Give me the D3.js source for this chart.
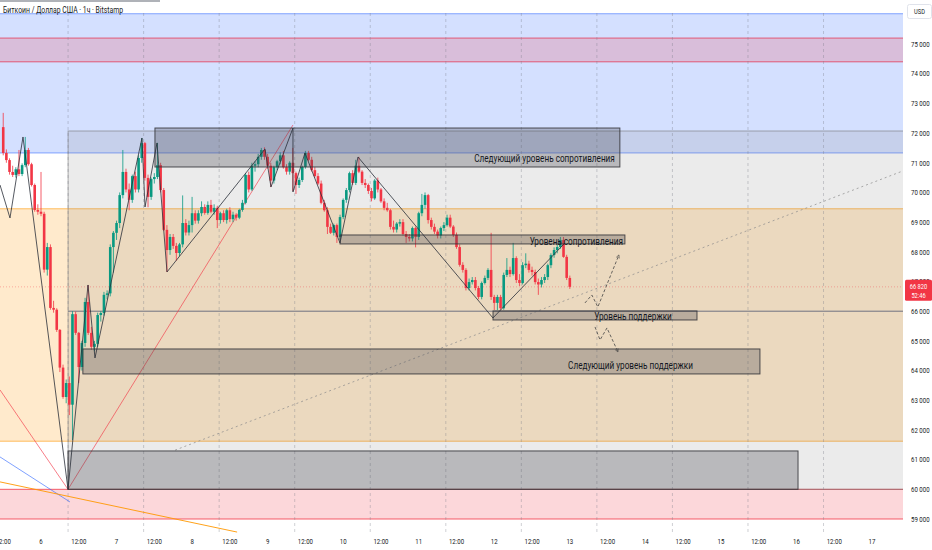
<!DOCTYPE html>
<html><head><meta charset="utf-8">
<script src="https://cdn.jsdelivr.net/npm/d3@7"></script>
<style>body{margin:0;background:#fff}svg{display:block}</style>
</head><body>
<svg id="c" width="932" height="550"></svg>
<script>
// ---------------- DATA ----------------
const title = "Биткоин / Доллар США · 1ч · Bitstamp";
const currency = "USD";
const lastPriceText = "66 820";
const countdownText = "52:46";
const lastPrice = 66820;
const firstHour = -12; // hours relative to day "6" 00:00
// [open, high, low, close] per 1h candle
const candles = [
[72200,72680,71250,71330],[71330,71450,71000,71090],[71090,71150,70600,70690],[70690,70900,70520,70590],
[70590,70850,70500,70780],[70780,71430,70550,70620],[70620,70980,70550,70920],[70920,71870,70850,71430],
[71430,71500,70900,70950],[70950,71000,70200,70250],[70250,70300,69350,69410],[69410,69600,69250,69350],
[69350,70690,69200,69280],[69280,69350,67300,67400],[67400,68300,67200,68160],[68160,68250,66050,66110],
[66110,66350,65950,66050],[66050,66100,65300,65370],[65370,65400,63950,64100],[64100,64200,63050,63110],
[63110,63700,62900,63580],[63580,63800,62500,62850],[62850,66000,61660,65900],[65900,65990,65200,65270],
[65270,65300,63580,64120],[64120,65000,64000,64930],[64930,66450,64800,66310],[66310,66880,65200,65270],
[65270,65470,64700,64800],[64800,65000,64650,64900],[64900,65950,64800,65870],[65870,66000,65650,65940],
[65940,66650,65850,66550],[66550,66700,66400,66600],[66600,68250,66500,68160],[68160,68700,67300,68640],
[68640,69050,68400,68970],[68970,70000,68800,69910],[69910,71430,69800,70690],[70690,70800,70000,70100],
[70100,70300,69400,69750],[69750,70600,69650,70550],[70550,70700,70000,70100],[70100,71250,70000,71160],
[71160,71830,71000,71660],[71660,71700,70400,70490],[70490,70600,69500,69850],[69850,70500,69750,70450],
[70450,70650,70300,70520],[70520,71670,70450,70920],[70920,71000,70000,70080],[70080,70150,68700,68740],
[68740,68900,67320,68060],[68060,68600,67900,68500],[68500,68600,68100,68200],[68200,68300,67700,67960],
[67960,68300,67850,68250],[68250,69900,68150,68970],[68970,69100,68550,68650],[68650,69050,68550,68900],
[68900,69850,68650,69300],[69300,69400,68950,69050],[69050,69400,68950,69300],[69300,69700,69200,69510],
[69510,69600,69250,69310],[69310,69700,69250,69580],[69580,69750,69300,69350],[69350,69600,69250,69480],
[69480,69550,68800,69070],[69070,69350,68950,69300],[69300,69400,69000,69070],[69070,69450,68950,69400],
[69400,69500,69000,69100],[69100,69350,69000,69250],[69250,69300,69050,69150],[69150,69450,69100,69410],
[69410,69750,69350,69650],[69650,70650,69600,70590],[70590,70700,70000,70100],[70100,71000,70050,70900],
[70900,71050,70700,70950],[70950,71300,70850,71200],[71200,71500,71100,71430],[71430,71520,71100,71200],
[71200,71300,70800,70900],[70900,71000,70180,70400],[70400,70900,70300,70850],[70850,71100,70750,71050],
[71050,71350,70950,71250],[71250,71400,70800,70850],[70850,70950,70600,70700],[70700,71050,70600,71000],
[71000,71500,70050,70650],[70650,70700,69950,70250],[70250,70500,70150,70420],[70420,70900,70350,70860],
[70860,71400,70800,71330],[71330,71400,71050,71100],[71100,71200,70700,70750],[70750,70850,70500,70550],
[70550,70650,70250,70300],[70300,70400,69600,69650],[69650,69750,69350,69400],[69400,69500,68600,68840],
[68840,68950,68600,68640],[68640,68950,68550,68900],[68900,68950,68300,68500],[68500,69250,68400,69170],
[69170,69800,69100,69750],[69750,70150,69650,70080],[70080,70700,70000,70650],[70650,70750,70250,70320],
[70320,71100,70250,70900],[70900,71200,70650,70700],[70700,70750,70250,70320],[70320,70450,70150,70250],
[70250,70300,69950,70050],[70050,70150,69700,69800],[69800,70450,69750,70400],[70400,70500,70000,70100],
[70100,70150,69650,69700],[69700,69800,69400,69480],[69480,69650,69350,69400],[69400,69450,68750,68840],
[68840,69050,68650,68750],[68750,69000,68650,68950],[68950,69100,68850,69000],[69000,69100,68550,68600],
[68600,68700,68300,68500],[68500,68600,68350,68450],[68450,68850,68350,68800],[68800,68850,68150,68500],
[68500,69350,68400,69300],[69300,69950,69200,69580],[69580,70000,69450,69910],[69910,69950,68950,69070],
[69070,69150,68750,68840],[68840,68950,68600,68680],[68680,68750,68450,68550],[68550,68850,68450,68800],
[68800,69000,68700,68900],[68900,69250,68850,69150],[69150,69250,68800,68850],[68850,68900,68500,68570],
[68570,68650,68100,68160],[68160,68250,67500,67560],[67560,67650,67300,67390],[67390,67450,66700,66780],
[66780,67100,66700,66980],[66980,67150,66900,67050],[67050,67150,66700,66780],[66780,66850,66400,66480],
[66480,67000,66400,66950],[66950,67200,66900,67120],[67120,67450,67050,67390],[67390,68640,66380,66480],
[66480,66550,66040,66280],[66280,66550,66040,66480],[66480,66550,66050,66100],[66100,67300,66050,67220],
[67220,67790,67150,67390],[67390,67500,67150,67250],[67250,68300,67200,67790],[67790,67850,66950,67050],
[67050,67250,66850,66950],[66950,67650,66900,67550],[67550,67950,67450,67600],[67600,67700,67300,67390],
[67390,67500,67200,67320],[67320,67400,66900,66980],[66980,67100,66550,66900],[66900,67150,66800,67050],
[67050,67250,66950,67150],[67150,67600,67050,67550],[67550,67950,67450,67890],[67890,68150,67800,68060],
[68060,68250,67950,68160],[68160,68500,68100,68400],[68400,68500,67800,67830],[67830,67900,67050,67120],
[67120,67200,66750,66820]
];
const priceTicks = d3.range(59000, 75001, 1000);
const xTickHours = d3.range(-12, 265, 12);
const xTickLabels = ["12:00","6","12:00","7","12:00","8","12:00","9","12:00","10","12:00","11",
                     "12:00","12","12:00","13","12:00","14","12:00","15","12:00","16","12:00","17"];
const sessionBreakHours = d3.range(-15.4, 264, 24);
// horizontal zones (price ranges)
const zones = [
  {id:"blue",   hi:76020, lo:71330},
  {id:"purple", hi:75200, lo:74400},
  {id:"orange", hi:69450, lo:61620},
  {id:"pink",   hi:60000, lo:59000}
];
const overlayZone = {h0:8.6, h1:280, hi:72070, lo:60000};
// level boxes [startHour, endHour, topPrice, bottomPrice]
const levelBoxes = [
  {h0:36.2,  h1:183.9, hi:72170, lo:70857},
  {h0:95.0,  h1:185.5, hi:68567, lo:68265},
  {h0:143.6, h1:208.4, hi:66008, lo:65704},
  {h0:13.3,  h1:228.4, hi:64727, lo:63886},
  {h0:8.6,   h1:240.5, hi:61292, lo:60000}
];
const levelLabels = [
  {text:"Следующий уровень сопротивления", h:182.3, p:71009},
  {text:"Уровень сопротивления",           h:184.9, p:68213},
  {text:"Уровень поддержки",               h:200.4, p:65687},
  {text:"Следующий уровень поддержки",     h:207.1, p:64037}
];
// zigzag swing points [hour, price]
const zigzag = [
  [-13.02,70251],[-9.85,69140],[-5.72,71868],[8.58,60000],[14.93,66883],[17.15,64425],
  [32.08,71834],[33.04,69510],[36.85,71666],[40.03,67321],[71.16,71464],[73.06,70184],
  [80.05,72171],[80.05,70016],[83.86,71329],[94.98,68298],[100.7,71194],[143.58,65772],[166.45,68298]
];
const projUp   = [[172.8,66277],[175.0,66546],[176.9,66142],[183.6,67894]];
const projDown = [[176.0,65469],[177.6,65031],[179.8,65435],[183.3,64627]];
const fanRed    = [[-13.02,63347],[8.58,60000]];
const fanBlue   = [[-13.02,61090],[9.2,59574]];
const fanOrange = [[-13.02,60250],[62.3,58560]];
const trendRed  = [[8.58,60000],[80.05,72272]];
const trendDotted = [[42.6,61320],[273.8,70723]];
const supportRay = {h0:8.6, p:66000};

// ---------------- LAYOUT ----------------
const W = 932, H = 550, plotR = 903, plotB = 533;
const x = d3.scaleLinear().domain([0, 264]).range([41, 872]);
const y = d3.scaleLinear().domain([59000, 75000]).range([519, 44]);
const FONT = "Roboto, 'Liberation Sans', sans-serif";
const SX = 0.76;
const svg = d3.select("#c");
svg.append("rect").attr("width", W).attr("height", H).attr("fill", "#fff");
svg.append("defs").append("clipPath").attr("id","plot")
  .append("rect").attr("x",0).attr("y",0).attr("width",plotR).attr("height",plotB);
svg.select("defs").append("marker").attr("id","arr").attr("viewBox","0 0 10 10")
  .attr("refX",9).attr("refY",5).attr("markerWidth",5).attr("markerHeight",5).attr("orient","auto")
  .append("path").attr("d","M1,1 L9,5 L1,9").attr("fill","none").attr("stroke","#444").attr("stroke-width",1.5);

const g = svg.append("g").attr("clip-path","url(#plot)");
const line = d3.line().x(d => x(d[0])).y(d => y(d[1]));

const zoneFill = {blue:"rgba(41,98,255,0.2)", purple:"rgba(242,54,69,0.2)", orange:"rgba(255,152,0,0.2)", pink:"rgba(242,54,69,0.2)"};
const zoneStroke = {blue:"rgba(41,98,255,0.55)", purple:"rgba(230,40,70,0.7)", orange:"rgba(255,152,0,0.6)", pink:"rgba(242,54,69,0.8)"};
zones.forEach(z => {
  g.append("rect").attr("x",0).attr("width",plotR).attr("y",y(z.hi)).attr("height",y(z.lo)-y(z.hi)).attr("fill",zoneFill[z.id]);
});
zones.forEach(z => {
  [z.hi, z.lo].forEach(p => g.append("line").attr("x1",0).attr("x2",plotR).attr("y1",y(p)).attr("y2",y(p))
    .attr("stroke",zoneStroke[z.id]).attr("stroke-width",1));
});
// grey overlay zone
g.append("rect").attr("x",x(overlayZone.h0)).attr("y",y(overlayZone.hi))
  .attr("width",x(overlayZone.h1)-x(overlayZone.h0)).attr("height",y(overlayZone.lo)-y(overlayZone.hi))
  .attr("fill","rgba(120,120,120,0.15)").attr("stroke","rgba(110,110,110,0.55)").attr("stroke-width",1);

// session breaks
sessionBreakHours.forEach(hh => {
  g.append("line").attr("x1",x(hh)).attr("x2",x(hh)).attr("y1",13).attr("y2",plotB)
    .attr("stroke","rgba(120,123,134,0.45)").attr("stroke-width",0.8).attr("stroke-dasharray","3,3");
});

// lines
g.append("path").attr("d",line(trendDotted)).attr("fill","none").attr("stroke","rgba(140,140,140,0.8)")
  .attr("stroke-width",0.9).attr("stroke-dasharray","2,3");
g.append("line").attr("x1",x(supportRay.h0)).attr("x2",plotR).attr("y1",y(supportRay.p)).attr("y2",y(supportRay.p))
  .attr("stroke","#6f7280").attr("stroke-width",1);
g.append("line").attr("x1",0).attr("x2",plotR).attr("y1",y(lastPrice)).attr("y2",y(lastPrice))
  .attr("stroke","rgba(242,54,69,0.45)").attr("stroke-width",0.8).attr("stroke-dasharray","1,2");
g.append("path").attr("d",line(fanRed)).attr("stroke","rgba(242,54,69,0.8)").attr("stroke-width",0.8).attr("fill","none");
g.append("path").attr("d",line(fanBlue)).attr("stroke","rgba(41,98,255,0.75)").attr("stroke-width",0.8).attr("fill","none");
g.append("path").attr("d",line(fanOrange)).attr("stroke","rgba(255,152,0,0.9)").attr("stroke-width",1).attr("fill","none");
g.append("path").attr("d",line(trendRed)).attr("stroke","rgba(242,54,69,0.8)").attr("stroke-width",0.8).attr("fill","none");

// candles
const up = "#089981", dn = "#f23645";
const cg = g.append("g");
candles.forEach((c, i) => {
  const hh = firstHour + i, cx = x(hh);
  const col = c[3] >= c[0] ? up : dn;
  cg.append("line").attr("x1",cx).attr("x2",cx).attr("y1",y(c[1])).attr("y2",y(c[2]))
    .attr("stroke",col).attr("stroke-width",0.8);
  const top = y(Math.max(c[0],c[3])), bot = y(Math.min(c[0],c[3]));
  cg.append("rect").attr("x",cx-1.3).attr("width",2.6).attr("y",top).attr("height",Math.max(0.8,bot-top)).attr("fill",col);
});

// level boxes
levelBoxes.forEach(b => {
  g.append("rect").attr("x",x(b.h0)).attr("y",y(b.hi)).attr("width",x(b.h1)-x(b.h0)).attr("height",y(b.lo)-y(b.hi))
    .attr("fill","rgba(70,70,80,0.3)").attr("stroke","rgba(50,50,55,0.85)").attr("stroke-width",1);
});

// zigzag & projections
g.append("path").attr("d",line(zigzag)).attr("fill","none").attr("stroke","#2a2e39").attr("stroke-width",0.8);
[projUp, projDown].forEach(pth => {
  g.append("path").attr("d",line(pth)).attr("fill","none").attr("stroke","#444").attr("stroke-width",0.8)
    .attr("stroke-dasharray","3,2").attr("marker-end","url(#arr)");
});

function txt(parent, tx, ty, s, size, anchor, fill, sx) {
  return parent.append("text").attr("transform",`translate(${tx},${ty}) scale(${sx||SX},1)`)
    .attr("text-anchor",anchor||"start").attr("font-family",FONT).attr("font-size",size).attr("fill",fill||"#131722").text(s);
}
levelLabels.forEach(l => txt(g, x(l.h), y(l.p), l.text, 10.5, "end", "#131722", 0.78));

// title bar
svg.append("line").attr("x1",0).attr("x2",160).attr("y1",1).attr("y2",1).attr("stroke","#9598a1").attr("stroke-width",1.6);
txt(svg, 3, 13, title, 9, "start", "#131722");

// price axis
priceTicks.forEach(p => {
  const s = d3.format(",")(p).replace(",", " ");
  txt(svg, 911, y(p)+2.8, s, 8, "start", "#131722");
});
svg.append("rect").attr("x",907.5).attr("y",4.5).attr("width",24).attr("height",14).attr("fill","#fff")
  .attr("stroke","#e0e3eb").attr("stroke-width",1).attr("rx",2);
txt(svg, 919.5, 14, currency, 7.5, "middle", "#131722");
svg.append("rect").attr("x",905).attr("y",y(lastPrice)-7).attr("width",27).attr("height",21).attr("fill","#f23645").attr("rx",1.5);
txt(svg, 918.5, y(lastPrice)+2.2, lastPriceText, 7.5, "middle", "#fff");
txt(svg, 918.5, y(lastPrice)+11.6, countdownText, 7.5, "middle", "#fff");

// time axis
xTickHours.forEach((hh, i) => {
  txt(svg, x(hh), 544, xTickLabels[i], 8, "middle", "#131722");
});
</script>
</body></html>
